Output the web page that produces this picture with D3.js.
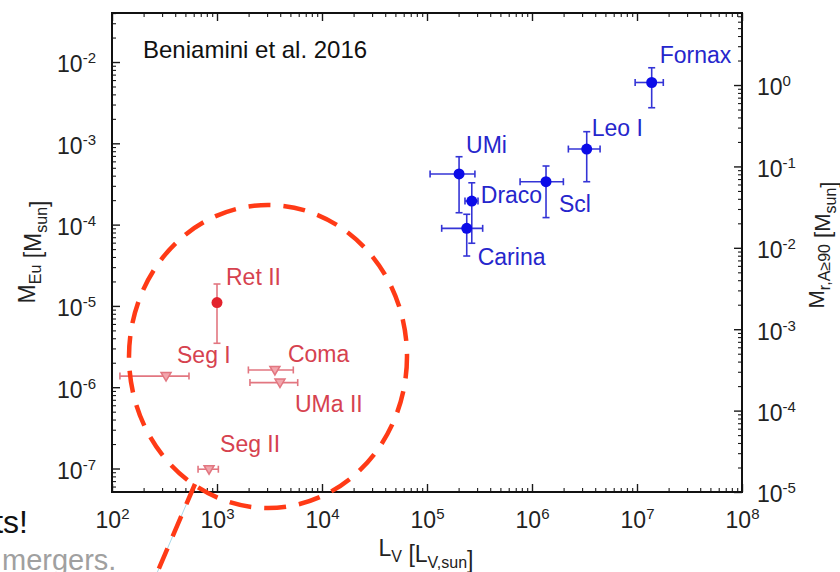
<!DOCTYPE html>
<html>
<head>
<meta charset="utf-8">
<script src="https://cdn.jsdelivr.net/npm/d3@7"></script>
<style>
  html, body { margin: 0; padding: 0; background: #fff; }
  svg text { font-family: "Liberation Sans", Arial, Helvetica, sans-serif; }
</style>
</head>
<body>
<svg id="chart" width="840" height="572"></svg>
<script>
// ---- Data: dwarf galaxies, V-band luminosity vs. europium mass ----
const names    = ["Fornax", "Leo I", "UMi", "Draco", "Scl", "Carina", "Ret II", "Seg I", "Coma", "UMa II", "Seg II"];
const group    = ["classical", "classical", "classical", "classical", "classical", "classical",
                  "ultrafaint", "ultrafaint", "ultrafaint", "ultrafaint", "ultrafaint"];
const upperLimit = [false, false, false, false, false, false, false, true, true, true, true];

// L_V [L_V,sun] with lower / upper error
const lumV  = [1.38e7, 3.32e6, 2.02e5, 2.67e5, 1.36e6, 2.39e5, 1.0e3, 3.27e2, 3.56e3, 3.98e3, 8.4e2];
const lumLo = [9.6e6, 2.22e6, 1.07e5, 2.30e5, 7.7e5, 1.38e5, null, 1.19e2, 1.99e3, 2.06e3, 6.6e2];
const lumHi = [1.78e7, 4.45e6, 2.86e5, 3.06e5, 1.99e6, 3.39e5, null, 5.41e2, 5.33e3, 5.87e3, 1.03e3];

// M_Eu [M_sun] with lower / upper error (none for upper limits)
const massEu = [5.6e-3, 8.5e-4, 4.2e-4, 1.95e-4, 3.37e-4, 9.0e-5, 1.10e-5, 1.37e-6, 1.63e-6, 1.14e-6, 9.8e-8];
const massLo = [2.74e-3, 3.37e-4, 1.40e-4, 5.9e-5, 1.22e-4, 4.11e-5, 3.47e-6, null, null, null, null];
const massHi = [8.5e-3, 1.39e-3, 6.84e-4, 3.27e-4, 5.26e-4, 1.34e-4, 1.86e-5, null, null, null, null];

// Axis ranges and major-tick exponents
const xDomain      = [1e2, 1e8];
const yLeftDomain  = [Math.pow(10, -7.289), Math.pow(10, -1.397)];
const yRightDomain = [1e-5, Math.pow(10, 0.885)];
const xExponents      = [2, 3, 4, 5, 6, 7, 8];
const yLeftExponents  = [-7, -6, -5, -4, -3, -2];
const yRightExponents = [-5, -4, -3, -2, -1, 0];

const citation = "Beniamini et al. 2016";

// ---- Layout ----
const plot = { left: 112, right: 742, top: 13, bottom: 492 };
const colors = {
  classical:  { mark: "#0b0be8", bar: "#3434d6", fill: "#0b0be8", text: "#2626cc" },
  ultrafaint: { mark: "#e3222c", bar: "#e27680", fill: "#f2a6ad", text: "#d6424f" }
};
// label anchor offsets (text start / baseline) relative to each point
const labelOffset = {
  "Fornax": [8, -19], "Leo I": [5, -13], "UMi": [7, -21], "Draco": [9, 2],
  "Scl": [13, 30], "Carina": [11, 37], "Ret II": [9, -18], "Seg I": [11, -13],
  "Coma": [13, -8], "UMa II": [15, 29], "Seg II": [11, -17]
};

const svg = d3.select("#chart");

const x  = d3.scaleLog().domain(xDomain).range([plot.left, plot.right]);
const yL = d3.scaleLog().domain(yLeftDomain).range([plot.bottom, plot.top]);
const yR = d3.scaleLog().domain(yRightDomain).range([plot.bottom, plot.top]);

function minorTicks(scale) {
  const [a, b] = scale.domain();
  const out = [];
  for (let e = Math.floor(Math.log10(a)); e <= Math.ceil(Math.log10(b)); e++) {
    for (let m = 2; m <= 9; m++) {
      const v = m * Math.pow(10, e);
      if (v >= a && v <= b) out.push(v);
    }
  }
  return out;
}

function styleAxis(g) {
  g.attr("font-size", 23).attr("font-family", null);
  g.select(".domain").remove();
  g.selectAll(".tick line").attr("stroke", "#1a1a1a").attr("stroke-width", 1.4);
}

function powerLabels(g) {
  g.selectAll(".tick text").each(function (d) {
    const t = d3.select(this);
    const e = Math.round(Math.log10(d));
    t.text(null).attr("fill", "#222");
    t.append("tspan").text("10");
    t.append("tspan").attr("dy", -9).attr("font-size", 15).text(e);
  });
}

function drawAxis(axisFn, scale, transform, majors, labelled, padding) {
  // minor ticks
  svg.append("g").attr("transform", transform)
    .call(axisFn(scale).tickValues(minorTicks(scale)).tickSize(-4).tickFormat(""))
    .call(styleAxis)
    .call(g => g.selectAll(".tick line").attr("stroke-width", 1.1));
  // major ticks
  const g = svg.append("g").attr("transform", transform)
    .call(axisFn(scale).tickValues(majors).tickSize(-8).tickPadding(padding)
      .tickFormat(labelled ? (d => d) : ""))
    .call(styleAxis);
  if (labelled) g.call(powerLabels);
  return g;
}

const xMajor  = xExponents.map(e => Math.pow(10, e));
const yLMajor = yLeftExponents.map(e => Math.pow(10, e));
const yRMajor = yRightExponents.map(e => Math.pow(10, e));

drawAxis(d3.axisBottom, x, `translate(0,${plot.bottom})`, xMajor, true, 20);
drawAxis(d3.axisTop, x, `translate(0,${plot.top})`, xMajor, false, 0);
const leftAxis = drawAxis(d3.axisLeft, yL, `translate(${plot.left},0)`, yLMajor, true, 16);
leftAxis.selectAll(".tick text").attr("dy", "0.43em");
const rightAxis = drawAxis(d3.axisRight, yR, `translate(${plot.right},0)`, yRMajor, true, 15);
rightAxis.selectAll(".tick text").attr("dy", "0.43em");

// frame
svg.append("rect")
  .attr("x", plot.left).attr("y", plot.top)
  .attr("width", plot.right - plot.left).attr("height", plot.bottom - plot.top)
  .attr("fill", "none").attr("stroke", "#111").attr("stroke-width", 2);

// axis titles
function subTitle(sel, parts) {
  parts.forEach(([txt, sub]) => {
    if (sub) {
      sel.append("tspan").attr("font-size", 16).attr("dy", 6).text(txt);
      sel.append("tspan").attr("dy", -6).text("");
    } else {
      sel.append("tspan").text(txt);
    }
  });
}

const xTitle = svg.append("text")
  .attr("x", 426).attr("y", 556).attr("text-anchor", "middle")
  .attr("font-size", 23).attr("fill", "#222");
subTitle(xTitle, [["L"], ["V", true], [" [L"], ["V,sun", true], ["]"]]);

const yTitle = svg.append("text")
  .attr("transform", "translate(35,252) rotate(-90)").attr("text-anchor", "middle")
  .attr("font-size", 23).attr("fill", "#222");
subTitle(yTitle, [["M"], ["Eu", true], [" [M"], ["sun", true], ["]"]]);

const y2Title = svg.append("text")
  .attr("transform", "translate(824,245) rotate(-90)").attr("text-anchor", "middle")
  .attr("font-size", 22).attr("fill", "#222");
subTitle(y2Title, [["M"], ["r,A\u226590", true], [" [M"], ["sun", true], ["]"]]);

// citation
svg.append("text").attr("x", 143).attr("y", 58)
  .attr("font-size", 24).attr("fill", "#111").text(citation);

// ---- Points ----
const points = names.map((n, i) => ({
  name: n, group: group[i], limit: upperLimit[i],
  L: lumV[i], Llo: lumLo[i], Lhi: lumHi[i],
  M: massEu[i], Mlo: massLo[i], Mhi: massHi[i]
}));

const pts = svg.append("g").selectAll("g").data(points).join("g");
const cap = 3.5;

pts.each(function (d) {
  const g = d3.select(this);
  const c = colors[d.group];
  const cx = x(d.L), cy = yL(d.M);
  if (d.Mlo != null) {
    const y0 = yL(d.Mlo), y1 = yL(d.Mhi);
    g.append("line").attr("x1", cx).attr("x2", cx).attr("y1", y0).attr("y2", y1);
    g.append("line").attr("x1", cx - cap).attr("x2", cx + cap).attr("y1", y0).attr("y2", y0);
    g.append("line").attr("x1", cx - cap).attr("x2", cx + cap).attr("y1", y1).attr("y2", y1);
  }
  if (d.Llo != null) {
    const x0 = x(d.Llo), x1 = x(d.Lhi);
    g.append("line").attr("x1", x0).attr("x2", x1).attr("y1", cy).attr("y2", cy);
    g.append("line").attr("x1", x0).attr("x2", x0).attr("y1", cy - cap).attr("y2", cy + cap);
    g.append("line").attr("x1", x1).attr("x2", x1).attr("y1", cy - cap).attr("y2", cy + cap);
  }
  g.selectAll("line").attr("stroke", c.bar).attr("stroke-width", 1.6);
  if (d.limit) {
    g.append("path")
      .attr("d", `M${cx - 5},${cy - 3.5} L${cx + 5},${cy - 3.5} L${cx},${cy + 5} Z`)
      .attr("fill", c.fill).attr("stroke", c.bar).attr("stroke-width", 1.5);
  } else {
    g.append("circle").attr("cx", cx).attr("cy", cy).attr("r", 5.5).attr("fill", c.mark);
  }
  const [dx, dy] = labelOffset[d.name];
  g.append("text").attr("x", cx + dx).attr("y", cy + dy)
    .attr("font-size", 23).attr("fill", c.text).text(d.name);
});

// ---- Slide overlay: highlight ring, pointer and surrounding text ----
svg.append("text").attr("x", 28).attr("y", 533).attr("text-anchor", "end")
  .attr("font-size", 32).attr("fill", "#111").text("ts!");
svg.append("text").attr("x", 2).attr("y", 570)
  .attr("font-size", 29).attr("fill", "#a0a0a0").text("mergers.");

svg.append("line").attr("x1", 195).attr("y1", 484).attr("x2", 154).attr("y2", 580)
  .attr("stroke", "#a8d8e8").attr("stroke-width", 1);
svg.append("ellipse")
  .attr("cx", 268).attr("cy", 356.5).attr("rx", 139).attr("ry", 151.5)
  .attr("fill", "none").attr("stroke", "#ff3a16").attr("stroke-width", 4.5)
  .attr("stroke-dasharray", "22 13");
svg.append("line").attr("x1", 195).attr("y1", 484).attr("x2", 154).attr("y2", 580)
  .attr("stroke", "#ff3a16").attr("stroke-width", 4.5).attr("stroke-dasharray", "22 13");
</script>
</body>
</html>
